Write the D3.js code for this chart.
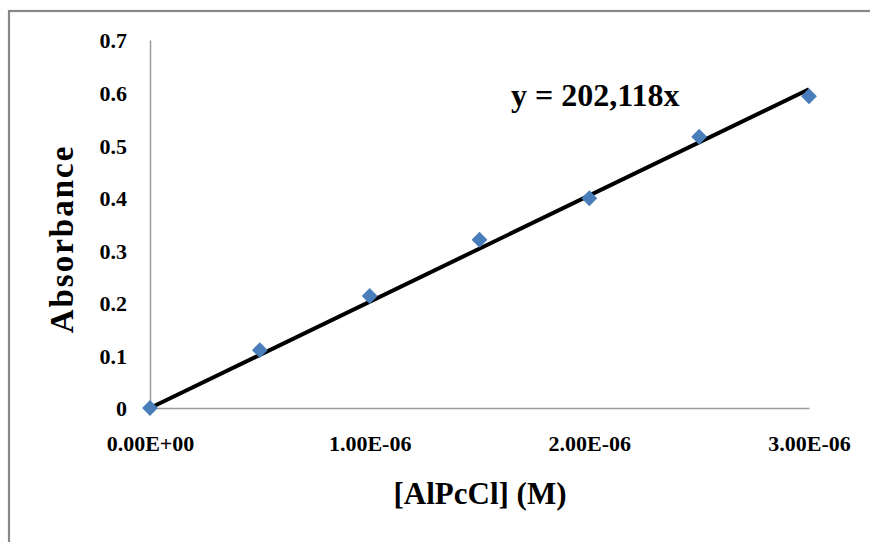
<!DOCTYPE html>
<html>
<head>
<meta charset="utf-8">
<script src="https://cdn.jsdelivr.net/npm/d3@7"></script>
<style>
  body { margin: 0; background: #fff; }
  svg { display: block; font-family: "Liberation Serif", "Times New Roman", serif; font-weight: bold; }
</style>
</head>
<body>
<div id="chart"></div>
<script>
// concentrations (M) and measured absorbance
const concentrations = [0, 0.5e-6, 1.0e-6, 1.5e-6, 2.0e-6, 2.5e-6, 3.0e-6];
const absorbance = [0, 0.110, 0.213, 0.320, 0.399, 0.516, 0.593];
const slope = 202118;
const xTicks = [0, 1e-6, 2e-6, 3e-6];
const yTicks = [0, 0.1, 0.2, 0.3, 0.4, 0.5, 0.6, 0.7];

const width = 870, height = 542;
const margin = { left: 150, right: 61, top: 40, bottom: 134 };

const svg = d3.select("#chart").append("svg")
  .attr("width", width)
  .attr("height", height);

// chart frame (only left and top edges visible in crop)
svg.append("rect")
  .attr("x", 9).attr("y", 11)
  .attr("width", width).attr("height", height)
  .attr("fill", "none")
  .attr("stroke", "#878787")
  .attr("stroke-width", 2.2);

const x = d3.scaleLinear().domain([0, 3e-6]).range([margin.left, width - margin.right]);
const y = d3.scaleLinear().domain([0, 0.7]).range([height - margin.bottom, margin.top]);

// axes
const yAxis = svg.append("g")
  .attr("transform", `translate(${margin.left},0)`)
  .call(d3.axisLeft(y).tickValues(yTicks).tickSize(0).tickPadding(23)
    .tickFormat(d => d === 0 ? "0" : d3.format(".1f")(d)));
yAxis.attr("font-family", null).attr("font-size", null);
yAxis.select(".domain").attr("stroke", "#9a9a9a").attr("stroke-width", 1.5);
yAxis.selectAll("text")
  .style("font-size", "22px")
  .attr("fill", "#000")
  .attr("dy", "0.36em");

const xAxis = svg.append("g")
  .attr("transform", `translate(0,${height - margin.bottom})`)
  .call(d3.axisBottom(x).tickValues(xTicks).tickSize(0).tickPadding(27)
    .tickFormat(d => d.toExponential(2).toUpperCase().replace(/E([+-])(\d)$/, "E$10$2")));
xAxis.attr("font-family", null).attr("font-size", null);
xAxis.select(".domain").attr("stroke", "#9a9a9a").attr("stroke-width", 1.5);
xAxis.selectAll("text")
  .style("font-size", "22px")
  .attr("fill", "#000");

// trendline
svg.append("line")
  .attr("x1", x(0)).attr("y1", y(0))
  .attr("x2", x(3e-6)).attr("y2", y(slope * 3e-6))
  .attr("stroke", "#000")
  .attr("stroke-width", 4);

// markers
svg.append("g")
  .selectAll("path")
  .data(concentrations)
  .join("path")
  .attr("d", d3.symbol(d3.symbolSquare, 125))
  .attr("transform", (d, i) => `translate(${x(d)},${y(absorbance[i])}) rotate(45)`)
  .attr("fill", "#4a7ebb");

// equation label
svg.append("text")
  .attr("x", 511).attr("y", 106)
  .style("font-size", "32px")
  .text("y = 202,118x");

// axis titles
svg.append("text")
  .attr("x", 480)
  .attr("y", 504)
  .attr("text-anchor", "middle")
  .style("font-size", "31px")
  .text("[AlPcCl] (M)");

svg.append("text")
  .attr("transform", `translate(73,239) rotate(-90)`)
  .attr("text-anchor", "middle")
  .style("font-size", "33px")
  .style("letter-spacing", "2px")
  .text("Absorbance");
</script>
</body>
</html>
